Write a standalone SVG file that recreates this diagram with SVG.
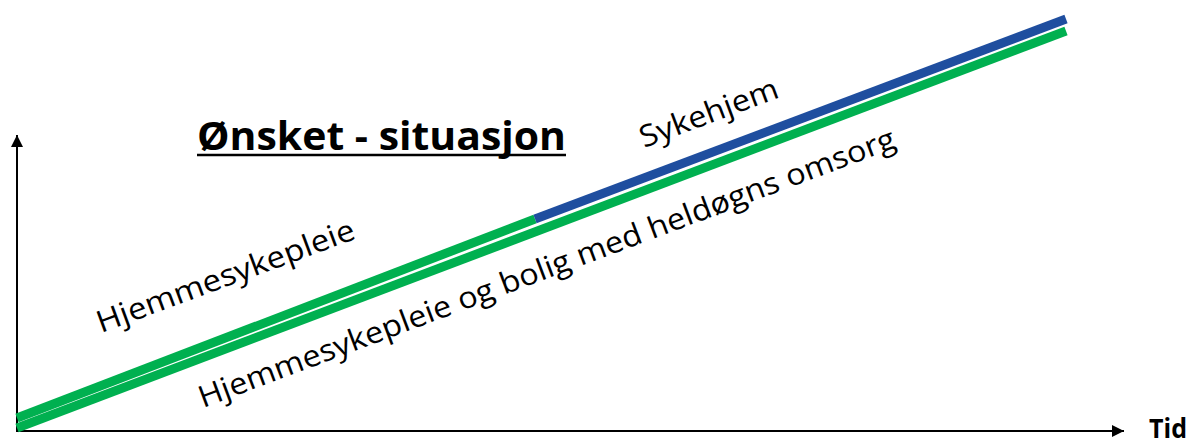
<svg xmlns="http://www.w3.org/2000/svg" width="1194" height="446" viewBox="0 0 1194 446">
<style>
.lbl{font-family:"Open Sans","Liberation Sans",sans-serif;font-size:30px;fill:#000}
.bold{font-family:"Open Sans","Liberation Sans",sans-serif;font-weight:bold;fill:#000}
.axis{stroke:#000;stroke-width:2;fill:none}
</style>
<defs>
<marker id="ah" viewBox="0 0 10 10" refX="10" refY="5" markerWidth="6" markerHeight="6" orient="auto" markerUnits="strokeWidth">
<path d="M0,0 L10,5 L0,10 z" fill="#000"/>
</marker>
</defs>
<rect width="1194" height="446" fill="#fff"/>
<g id="connectors">
<line class="axis" x1="17" y1="431" x2="17" y2="135" marker-end="url(#ah)"/>
<line class="axis" x1="16" y1="431" x2="1124" y2="431" marker-end="url(#ah)"/>
<line x1="17" y1="418" x2="535" y2="219" stroke="#00B050" stroke-width="9"/>
<line x1="535" y1="219" x2="1066" y2="19" stroke="#1F4E9F" stroke-width="9"/>
<line x1="17" y1="428" x2="1066" y2="31" stroke="#00B050" stroke-width="9"/>
</g>
<g id="title">
<text class="bold" x="197" y="150" font-size="40" textLength="369" lengthAdjust="spacingAndGlyphs">Ønsket - situasjon</text>
<line x1="197" y1="155" x2="566" y2="155" stroke="#000" stroke-width="2.5"/>
</g>
<g id="label-hjemmesykepleie">
<text class="lbl" x="101" y="333" transform="rotate(-20.3 101 333)" textLength="273" lengthAdjust="spacingAndGlyphs">Hjemmesykepleie</text>
</g>
<g id="label-sykehjem">
<text class="lbl" x="644" y="148" transform="rotate(-20.5 644 148)" textLength="146" lengthAdjust="spacingAndGlyphs">Sykehjem</text>
</g>
<g id="label-bolig">
<text class="lbl" x="203" y="408" transform="rotate(-20.6 203 408)" textLength="742" lengthAdjust="spacingAndGlyphs">Hjemmesykepleie og bolig med heldøgns omsorg</text>
</g>
<g id="label-tid">
<text class="bold" x="1149" y="438" font-size="26" textLength="38" lengthAdjust="spacingAndGlyphs">Tid</text>
</g>
</svg>
